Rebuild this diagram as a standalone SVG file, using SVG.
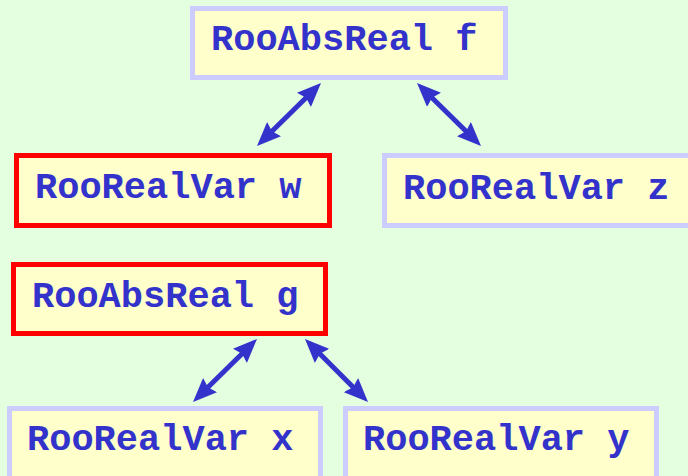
<svg xmlns="http://www.w3.org/2000/svg" width="688" height="476" viewBox="0 0 688 476">
<style>
.box{fill:#ffffcc;stroke:#ccccff;stroke-width:5}
.sel{fill:#ffffcc;stroke:#ff0000;stroke-width:5}
.lbl{font-family:"Liberation Mono","Courier New",monospace;font-weight:bold;font-size:37px;fill:#3333cc}
.arr{stroke:#3333cc;stroke-width:5;fill:none;marker-start:url(#ah);marker-end:url(#ah)}
</style>
<defs>
<marker id="ah" markerUnits="userSpaceOnUse" markerWidth="24" markerHeight="20" viewBox="0 0 24 20" refX="8" refY="10" orient="auto-start-reverse">
<path d="M0,0 L24,10 L0,20 L3,10 z" fill="#3333cc"/>
</marker>
</defs>
<rect width="688" height="476" fill="#e4fee0"/>
<g id="connectors">
<path class="arr" d="M309.6,94.2 L268.4,134.8"/>
<path class="arr" d="M428.4,94.2 L469.6,134.8"/>
<path class="arr" d="M245.6,350.2 L204.4,390.8"/>
<path class="arr" d="M316.3,350.3 L356.7,390.7"/>
</g>
<g id="node-f">
<rect class="box" x="192.5" y="8.5" width="313" height="69"/>
<text class="lbl" x="211" y="50">RooAbsReal f</text>
</g>
<g id="node-w">
<rect class="sel" x="16.5" y="155.5" width="313" height="70"/>
<text class="lbl" x="35" y="198">RooRealVar w</text>
</g>
<g id="node-z">
<rect class="box" x="384.5" y="155.5" width="313" height="70"/>
<text class="lbl" x="403" y="199">RooRealVar z</text>
</g>
<g id="node-g">
<rect class="sel" x="13.5" y="264.5" width="312" height="69"/>
<text class="lbl" x="32" y="307">RooAbsReal g</text>
</g>
<g id="node-x">
<rect class="box" x="9.5" y="408.5" width="311" height="72"/>
<text class="lbl" x="27" y="450">RooRealVar x</text>
</g>
<g id="node-y">
<rect class="box" x="345.5" y="408.5" width="311" height="72"/>
<text class="lbl" x="363" y="450">RooRealVar y</text>
</g>
</svg>
